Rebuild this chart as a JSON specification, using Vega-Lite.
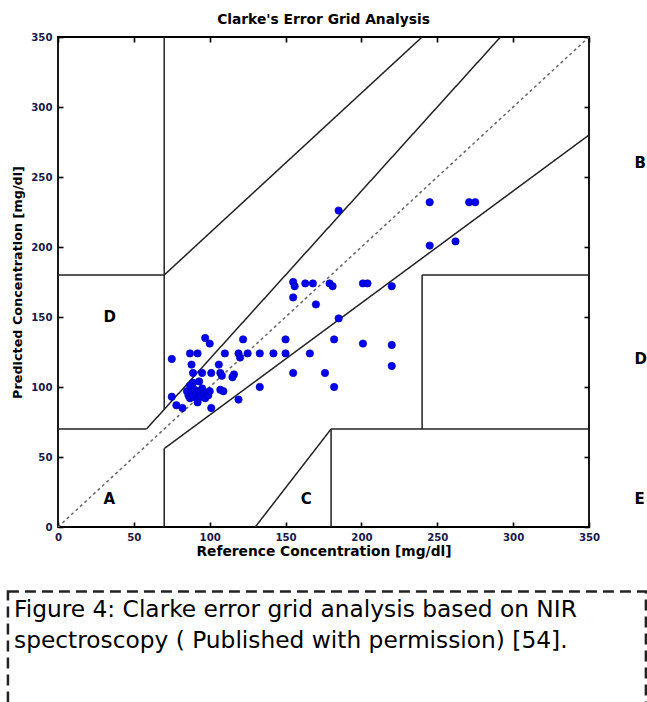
{
  "$schema": "https://vega.github.io/schema/vega-lite/v6.json",
  "width": 531,
  "height": 490,
  "autosize": "none",
  "padding": {"left": 58, "top": 37, "right": 58, "bottom": 175},
  "background": "white",
  "config": {
    "view": {"stroke": "black", "strokeWidth": 1.8},
    "font": "DejaVu Sans"
  },
  "title": {"text": "Clarke's Error Grid Analysis", "fontSize": 13.8, "fontWeight": "bold", "font": "DejaVu Sans", "color": "black", "offset": 5},
  "datasets": {
    "lines": [
      {"x1": 0, "y1": 0, "x2": 350, "y2": 350, "kind": "diag"},
      {"x1": 0, "y1": 70, "x2": 58.33, "y2": 70, "kind": "zone"},
      {"x1": 58.33, "y1": 70, "x2": 291.67, "y2": 350, "kind": "zone"},
      {"x1": 70, "y1": 84, "x2": 70, "y2": 350, "kind": "zone"},
      {"x1": 0, "y1": 180, "x2": 70, "y2": 180, "kind": "zone"},
      {"x1": 70, "y1": 180, "x2": 240, "y2": 350, "kind": "zone"},
      {"x1": 70, "y1": 0, "x2": 70, "y2": 56, "kind": "zone"},
      {"x1": 70, "y1": 56, "x2": 350, "y2": 280, "kind": "zone"},
      {"x1": 180, "y1": 0, "x2": 180, "y2": 70, "kind": "zone"},
      {"x1": 180, "y1": 70, "x2": 350, "y2": 70, "kind": "zone"},
      {"x1": 240, "y1": 70, "x2": 240, "y2": 180, "kind": "zone"},
      {"x1": 240, "y1": 180, "x2": 350, "y2": 180, "kind": "zone"},
      {"x1": 130, "y1": 0, "x2": 180, "y2": 70, "kind": "zone"}
    ],
    "points": [
      {"ref": 85, "pred": 97}, {"ref": 86, "pred": 94}, {"ref": 87, "pred": 92}, {"ref": 88, "pred": 96},
      {"ref": 88, "pred": 100}, {"ref": 89, "pred": 93}, {"ref": 90, "pred": 98}, {"ref": 91, "pred": 95},
      {"ref": 92, "pred": 91}, {"ref": 93, "pred": 97}, {"ref": 94, "pred": 93}, {"ref": 95, "pred": 99},
      {"ref": 96, "pred": 95}, {"ref": 97, "pred": 92}, {"ref": 98, "pred": 96}, {"ref": 99, "pred": 94},
      {"ref": 100, "pred": 97}, {"ref": 89, "pred": 103}, {"ref": 93, "pred": 104}, {"ref": 87, "pred": 101},
      {"ref": 75, "pred": 120}, {"ref": 97, "pred": 135}, {"ref": 100, "pred": 131}, {"ref": 87, "pred": 124},
      {"ref": 92, "pred": 124}, {"ref": 110, "pred": 124}, {"ref": 122, "pred": 134}, {"ref": 119, "pred": 124},
      {"ref": 125, "pred": 124}, {"ref": 133, "pred": 124}, {"ref": 142, "pred": 124}, {"ref": 120, "pred": 121},
      {"ref": 88, "pred": 116}, {"ref": 106, "pred": 116}, {"ref": 89, "pred": 110}, {"ref": 95, "pred": 110},
      {"ref": 101, "pred": 110}, {"ref": 107, "pred": 110}, {"ref": 108, "pred": 108}, {"ref": 116, "pred": 109},
      {"ref": 115, "pred": 107}, {"ref": 75, "pred": 93}, {"ref": 107, "pred": 98}, {"ref": 109, "pred": 97},
      {"ref": 133, "pred": 100}, {"ref": 119, "pred": 91}, {"ref": 78, "pred": 87}, {"ref": 82, "pred": 85},
      {"ref": 101, "pred": 85}, {"ref": 92, "pred": 89},
      {"ref": 155, "pred": 175}, {"ref": 156, "pred": 172}, {"ref": 163, "pred": 174}, {"ref": 168, "pred": 174},
      {"ref": 179, "pred": 174}, {"ref": 181, "pred": 172}, {"ref": 201, "pred": 174}, {"ref": 204, "pred": 174},
      {"ref": 220, "pred": 172}, {"ref": 155, "pred": 164}, {"ref": 170, "pred": 159}, {"ref": 185, "pred": 149},
      {"ref": 150, "pred": 134}, {"ref": 182, "pred": 134}, {"ref": 201, "pred": 131}, {"ref": 220, "pred": 130},
      {"ref": 150, "pred": 124}, {"ref": 166, "pred": 124}, {"ref": 220, "pred": 115}, {"ref": 155, "pred": 110},
      {"ref": 176, "pred": 110}, {"ref": 182, "pred": 100},
      {"ref": 245, "pred": 232}, {"ref": 271, "pred": 232}, {"ref": 275, "pred": 232}, {"ref": 245, "pred": 201},
      {"ref": 262, "pred": 204}, {"ref": 185, "pred": 226}
    ],
    "zones": [
      {"x": 30, "y": 20, "label": "A"},
      {"x": 30, "y": 150, "label": "D"},
      {"x": 160, "y": 20, "label": "C"},
      {"x": 380, "y": 20, "label": "E"},
      {"x": 380, "y": 120, "label": "D"},
      {"x": 380, "y": 260, "label": "B"}
    ],
    "caption": [
      {"x": -29, "y": -59.3, "text": "Figure 4: Clarke error grid analysis based on NIR"},
      {"x": -29, "y": -81.4, "text": "spectroscopy ( Published with permission) [54]."}
    ],
    "box": [
      {"x": -33, "x2": 387.5, "y": -46, "y2": -140}
    ]
  },
  "layer": [
    {
      "layer": [
        {
          "data": {"name": "lines"},
          "mark": {"type": "rule", "strokeWidth": 1.5},
          "encoding": {
            "x": {"field": "x1", "type": "quantitative", "scale": {"domain": [0, 350], "nice": false, "zero": false},
              "axis": {"title": "Reference Concentration [mg/dl]", "values": [0, 50, 100, 150, 200, 250, 300, 350],
                "orient": "bottom", "grid": false, "domain": false, "tickSize": -5, "tickColor": "black", "tickWidth": 1.6,
                "labelPadding": 10, "labelFontSize": 10.2, "labelFontWeight": "bold", "labelColor": "#18184a", "labelFont": "DejaVu Sans",
                "labelFlush": false, "labelOverlap": false,
                "titleFontSize": 13.8, "titleFontWeight": "bold", "titleColor": "black", "titleFont": "DejaVu Sans", "titlePadding": 2}},
            "y": {"field": "y1", "type": "quantitative", "scale": {"domain": [0, 350], "nice": false, "zero": false},
              "axis": {"title": "Predicted Concentration [mg/dl]", "values": [0, 50, 100, 150, 200, 250, 300, 350],
                "orient": "left", "grid": false, "domain": false, "tickSize": -5, "tickColor": "black", "tickWidth": 1.6,
                "labelPadding": 11, "labelFontSize": 10.2, "labelFontWeight": "bold", "labelColor": "#18184a", "labelFont": "DejaVu Sans",
                "labelFlush": false, "labelOverlap": false,
                "titleFontSize": 12.8, "titleFontWeight": "bold", "titleColor": "black", "titleFont": "DejaVu Sans", "titlePadding": 6}},
            "x2": {"field": "x2"},
            "y2": {"field": "y2"},
            "color": {"field": "kind", "type": "nominal", "scale": {"domain": ["diag", "zone"], "range": ["#666666", "#222222"]}, "legend": null},
            "strokeDash": {"field": "kind", "type": "nominal", "scale": {"domain": ["diag", "zone"], "range": [[3, 3], [1, 0]]}, "legend": null}
          }
        },
        {
          "data": {"name": "points"},
          "mark": {"type": "circle", "size": 55, "opacity": 1, "color": "#0000f0", "stroke": "#0000a0", "strokeWidth": 0.6},
          "encoding": {
            "x": {"field": "ref", "type": "quantitative"},
            "y": {"field": "pred", "type": "quantitative"}
          }
        },
        {
          "data": {"name": "zones"},
          "mark": {"type": "text", "align": "left", "baseline": "middle", "fontSize": 15, "fontWeight": "bold", "font": "DejaVu Sans", "color": "black"},
          "encoding": {
            "x": {"field": "x", "type": "quantitative"},
            "y": {"field": "y", "type": "quantitative"},
            "text": {"field": "label"}
          }
        },
        {
          "data": {"name": "box"},
          "mark": {"type": "rect", "fill": null, "stroke": "#222222", "strokeWidth": 2.5, "strokeDash": [11, 6]},
          "encoding": {
            "x": {"field": "x", "type": "quantitative"},
            "x2": {"field": "x2"},
            "y": {"field": "y", "type": "quantitative"},
            "y2": {"field": "y2"}
          }
        },
        {
          "data": {"name": "caption"},
          "mark": {"type": "text", "align": "left", "baseline": "middle", "fontSize": 23.3, "font": "DejaVu Sans", "color": "black"},
          "encoding": {
            "x": {"field": "x", "type": "quantitative"},
            "y": {"field": "y", "type": "quantitative"},
            "text": {"field": "text"}
          }
        }
      ]
    },
    {
      "data": {"values": [{"a": 0, "b": 0}]},
      "mark": {"type": "point", "opacity": 0},
      "encoding": {
        "x": {"field": "a", "type": "quantitative",
          "axis": {"orient": "top", "title": null, "labels": false, "grid": false, "domain": false, "tickSize": -5, "tickColor": "black", "tickWidth": 1.6, "values": [0, 50, 100, 150, 200, 250, 300, 350]}},
        "y": {"field": "b", "type": "quantitative",
          "axis": {"orient": "right", "title": null, "labels": false, "grid": false, "domain": false, "tickSize": -5, "tickColor": "black", "tickWidth": 1.6, "values": [0, 50, 100, 150, 200, 250, 300, 350]}}
      }
    }
  ],
  "resolve": {"axis": {"x": "independent", "y": "independent"}}
}
